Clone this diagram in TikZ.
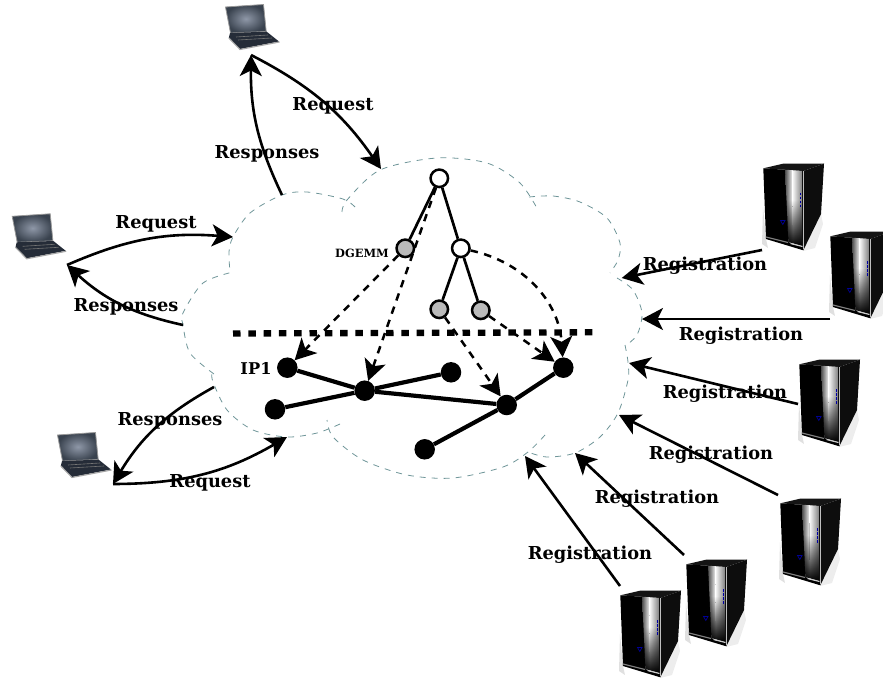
\documentclass[tikz,border=0pt]{standalone}
\usepackage{fontspec}
\setmainfont{DejaVu Serif}
\usepackage{tikz}
\usetikzlibrary{arrows.meta}
\usetikzlibrary{fadings}
\usetikzlibrary{positioning}
\usetikzlibrary{bayesnet}

\definecolor{cloudcol}{HTML}{6E9598}
\definecolor{screenlit}{HTML}{8F98A8}
\definecolor{screendim}{HTML}{39424E}
\definecolor{keysdark}{HTML}{252C38}
\tikzset{
  lbl/.style={font=\bfseries\fontsize{17.8}{20}\selectfont, inner sep=0pt},
  iplbl/.style={font=\bfseries\fontsize{16.2}{18}\selectfont, inner sep=0pt},
  smalllbl/.style={font=\bfseries\fontsize{11.4}{13}\selectfont, inner sep=0pt},
  cloudline/.style={draw=cloudcol, line width=0.8pt, dash pattern=on 6pt off 6pt},
  hollow/.style={circle, draw, fill=white, line width=2.5pt, minimum size=17.5pt, inner sep=0pt},
  grey/.style={circle, draw, fill=black!27, line width=2.5pt, minimum size=17.5pt, inner sep=0pt},
  peer/.style={circle, fill=black, minimum size=20.5pt, inner sep=0pt},
  treeedge/.style={-, line width=2.7pt},
  linkedge/.style={-, line width=4.2pt},
  mapedge/.style={-{Stealth[length=21pt,width=22pt,inset=5.5pt]}, line width=2.5pt, dash pattern=on 7.5pt off 6.5pt},
  flow/.style={-{Stealth[length=21pt,width=22pt,inset=5.5pt]}, line width=2.6pt},
  cutline/.style={line width=6.3pt, dash pattern=on 7.5pt off 7.8pt},
  laptop/.pic={
    \shade[draw=black!40, line width=0.8pt, inner color=screenlit, outer color=screendim]
      (1.5,4) -- (39.5,1.5) -- (42.2,28.5) -- (6.5,30) -- cycle;
    \fill[keysdark] (6,30) -- (42.7,28.7) -- (55,38.5) -- (16,46) -- (4.8,35) -- cycle;
    \draw[black!35, line width=1.1pt] (4.8,35) -- (16,46.5) -- (55.5,39);
    \draw[black!55, line width=0.6pt] (12,34) -- (44,32) (14,37) -- (48,35);
  },
  server/.pic={
    \fill[black!12] (0,45) -- (3,77) -- (5,86) -- (-1,82) -- cycle;
    \fill[black!7] (40,89) -- (58,52) -- (60,62) -- (52,86) -- cycle;
    \fill[black!92] (0.3,6.3) -- (20,1.7) -- (61,1.7) -- (40.3,9) -- cycle;
    \fill[black] (0.3,6.3) -- (40.3,9) -- (40.3,88.3) -- (3,77) -- cycle;
    \fill[black!95] (40.3,9) -- (61,1.7) -- (58,52) -- (40.3,88.3) -- cycle;
    \shade[left color=black!70, right color=white] (22,7.7) -- (29,8.2) -- (30,82.5) -- (25.5,80) -- cycle;
    \shade[left color=white, right color=black!50] (29,8.2) -- (39,9) -- (39,84) -- (30,82.5) -- cycle;
    \fill[black, path fading=north] (22,38) -- (39,38) -- (39,84) -- (25.5,80) -- cycle;
    \draw[black!25, line width=1pt] (40.3,9) -- (40.3,87);
    \draw[black!50, line width=1.2pt] (3,75) -- (25,80.5);
    \draw[black!20, line width=1.2pt] (27.5,81.5) -- (39.5,84.5);
    \draw[blue!65!black, line width=0.9pt, dash pattern=on 2.5pt off 1.5pt] (37.2,31) -- (37.2,46);
    \draw[blue!60!black, line width=0.7pt] (17.5,58.5) -- (22,58.5) -- (19.8,62.5) -- cycle;
  },
}

\begin{document}
\begin{tikzpicture}[x=1pt, y=-1pt, on grid]
\useasboundingbox (0,0) rectangle (883,679);

% Cloud
\draw[cloudline] plot[smooth] coordinates {(355,207) (343,199) (307,192) (282,195) (250,213) (233,237) (229,252) (230,272)};
\draw[cloudline] plot[smooth] coordinates {(342,212) (347,200) (380,170) (437,158) (487,163) (520,183) (538,210)};
\draw[cloudline] plot[smooth] coordinates {(529,197) (553,196) (580,202) (607,218) (620,243) (618,260) (610,273)};
\draw[cloudline] plot[smooth] coordinates {(617,278) (633,290) (642,313) (637,335) (625,346)};
\draw[cloudline] plot[smooth] coordinates {(625,345) (628,362) (628,380) (618,413) (600,437) (575,453) (547,457) (528,452)};
\draw[cloudline] plot[smooth] coordinates {(545,435) (528,452) (503,467) (453,478) (407,475) (363,460) (333,437) (327,420)};
\draw[cloudline] plot[smooth] coordinates {(340,424) (317,433) (287,437) (253,430) (227,410) (213,382) (212,373)};
\draw[cloudline] plot[smooth] coordinates {(214,374) (190,353) (183,325) (183,313) (203,283) (233,272)};

% Tree nodes
\node[hollow] (root) at (439.3,178.3) {};
\node[grey, below left=70pt and 34pt of root] (dgemm) {};
\node[hollow, below right=70pt and 21.5pt of root] (inner) {};
\node[grey, below left=61pt and 21.5pt of inner] (greyA) {};
\node[grey, below right=62pt and 20pt of inner] (greyB) {};

% Peer nodes
\node[peer] (ip) at (287.3,367.7) {};
\node[peer, below right=23pt and 77.4pt of ip] (hub) {};
\node[peer, above right=18.4pt and 86.3pt of hub] (peerA) {};
\node[peer, below left=18.6pt and 89.7pt of hub] (peerB) {};
\node[peer, below right=14.3pt and 142pt of hub] (mid) {};
\node[peer, above right=37.3pt and 56.6pt of mid] (peerC) {};
\node[peer, below left=44.3pt and 82pt of mid] (peerD) {};

% Cut between the tree and the peers
\coordinate (cutL) at (233,333.5);
\coordinate (cutR) at (596,332.3);
\draw[cutline] (cutL) -- (cutR);

% Laptops
\pic at (224,3) {laptop};
\pic at (10.7,212.3) {laptop};
\pic at (56,431) {laptop};

% Servers
\pic at (763,162) {server};
\pic at (830,230) {server};
\pic at (799,358) {server};
\pic at (780,497) {server};
\pic at (686,558) {server};
\pic at (620,589) {server};

% Free ends
\coordinate (lapT) at (251,55);
\coordinate (lapL) at (67,265);
\coordinate (lapB) at (113,484);
\coordinate (reqT) at (381,169);
\coordinate (resT) at (282,195);
\coordinate (reqL) at (233,237);
\coordinate (resL) at (183,325);
\coordinate (reqB) at (287,437);
\coordinate (resB) at (214,387);
\coordinate (srvA) at (762,250);
\coordinate (srvB) at (830,319);
\coordinate (srvC) at (798,404);
\coordinate (srvD) at (778,495);
\coordinate (srvE) at (684,555);
\coordinate (srvF) at (620,586);
\coordinate (hitA) at (621.7,278);
\coordinate (hitB) at (642,319);
\coordinate (hitC) at (629,363);
\coordinate (hitD) at (619,415);
\coordinate (hitE) at (575,453);
\coordinate (hitF) at (525,456);

% Edges
\edge[treeedge] {root}{dgemm,inner};
\edge[treeedge] {inner}{greyA,greyB};
\edge[linkedge] {hub}{ip,peerA,peerB,mid};
\edge[linkedge] {mid}{peerC,peerD};
\edge[mapedge] {dgemm}{ip};
\edge[mapedge] {root}{hub};
\edge[mapedge] {greyA}{mid};
\edge[mapedge] {greyB}{peerC};
\draw[mapedge] (inner) to[bend left=37] (peerC);

\draw[flow] (lapT) to[bend left=14] (reqT);
\draw[flow] (resT) to[bend left=13] (lapT);
\draw[flow] (lapL) to[bend left=14] (reqL);
\draw[flow] (resL) to[bend left=15] (lapL);
\draw[flow] (resB) to[bend right=15] (lapB);
\draw[flow] (lapB) to[bend right=15] (reqB);
\edge[flow] {srvA}{hitA};
\edge[flow] {srvB}{hitB};
\edge[flow] {srvC}{hitC};
\edge[flow] {srvD}{hitD};
\edge[flow] {srvE}{hitE};
\edge[flow] {srvF}{hitF};

% Labels
\node[lbl] (reqTl) at (333,106) {Request};
\node[lbl] (resTl) at (267,154) {Responses};
\node[lbl] (reqLl) at (156,224) {Request};
\node[lbl] (resLl) at (126,307) {Responses};
\node[lbl] (resBl) at (170,421) {Responses};
\node[lbl] (reqBl) at (210,483) {Request};
\node[iplbl] (ipl) at (256,368) {IP1};
\node[smalllbl] (dgemml) at (362,253) {DGEMM};
\node[lbl] (regA) at (705,266) {Registration};
\node[lbl] (regB) at (741,336) {Registration};
\node[lbl] (regC) at (725,394) {Registration};
\node[lbl] (regD) at (711,455) {Registration};
\node[lbl] (regE) at (657,499) {Registration};
\node[lbl] (regF) at (590,555) {Registration};
\end{tikzpicture}
\end{document}
